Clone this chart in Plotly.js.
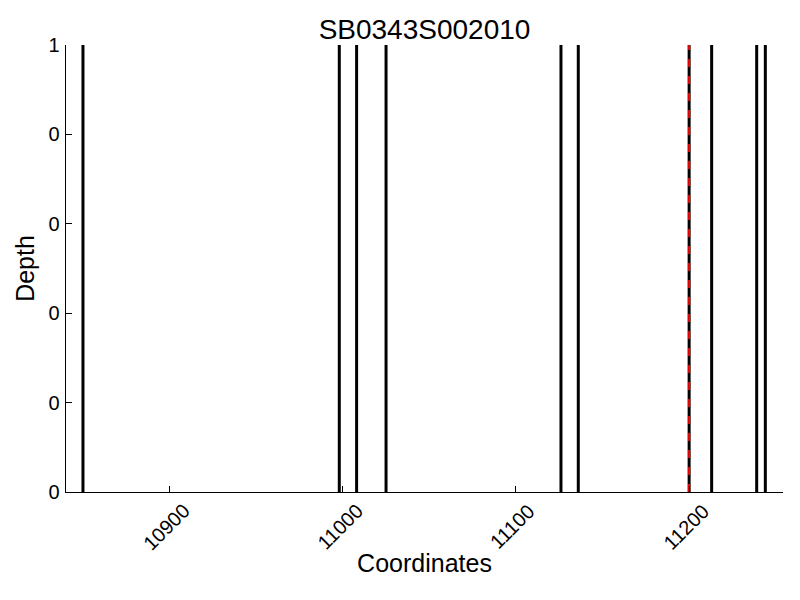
<!DOCTYPE html>
<html>
<head>
<meta charset="utf-8">
<script src="https://cdn.plot.ly/plotly-3.0.1.min.js"></script>
<style>html,body{margin:0;padding:0;background:#fff;}#chart{width:800px;height:600px;}</style>
</head>
<body>
<div id="chart"></div>
<script>
// Read coordinates of the depth markers (depth = 1 each)
const coordinates = [10850, 10998, 11008, 11025, 11126, 11136, 11200, 11213, 11239, 11244];
const depths = [1, 1, 1, 1, 1, 1, 1, 1, 1, 1];
const highlightCoord = [11200];
const highlightDepth = [1];
const xTickVals = [10900, 11000, 11100, 11200];
const xTickText = ['10900', '11000', '11100', '11200'];
const yTickVals = [0, 0.2, 0.4, 0.6, 0.8, 1];
const yTickText = ['0', '0', '0', '0', '0', '1'];

const FONT = 'Liberation Sans, Arial, sans-serif';

function stems(xs, ys) {
  const x = [], y = [];
  xs.forEach((c, i) => { x.push(c, c, null); y.push(0, ys[i], null); });
  return {x, y};
}
const s1 = stems(coordinates, depths);
const s2 = stems(highlightCoord, highlightDepth);

const traces = [
  {type: 'scatter', mode: 'lines', x: s1.x, y: s1.y, line: {color: '#000', width: 3}, hoverinfo: 'skip', showlegend: false},
  {type: 'scatter', mode: 'lines', x: s2.x, y: s2.y, line: {color: '#ff0000', width: 2, dash: '8px,9px'}, hoverinfo: 'skip', showlegend: false}
];

const annotations = xTickVals.map((v, i) => ({
  x: v, xref: 'x', y: 0, yref: 'paper', text: xTickText[i], showarrow: false,
  textangle: -45, xanchor: 'center', yanchor: 'top', yshift: -5, xshift: -3,
  font: {family: FONT, size: 20, color: '#000'}
}));

const layout = {
  width: 800, height: 600,
  margin: {l: 66, r: 17, t: 45, b: 108, pad: 0},
  paper_bgcolor: '#fff', plot_bgcolor: '#fff',
  font: {family: FONT, color: '#000'},
  title: {text: 'SB0343S002010', font: {family: FONT, size: 28, color: '#000'}, x: 0.5, xref: 'paper', y: 1, yref: 'paper', yanchor: 'bottom', pad: {b: 6}},
  xaxis: {
    range: [10840.2, 11254.2], tickvals: xTickVals, ticktext: xTickText, showticklabels: false,
    ticks: 'inside', ticklen: 6, tickwidth: 1, tickcolor: '#000',
    showline: true, linecolor: '#000', linewidth: 1.3, showgrid: false, zeroline: false,
    title: {text: 'Coordinates', font: {family: FONT, size: 25, color: '#000'}, standoff: 62}
  },
  yaxis: {
    range: [0, 1], tickvals: yTickVals, ticktext: yTickText,
    ticks: 'inside', ticklen: 6, tickwidth: 1, tickcolor: '#000', ticklabelstandoff: 1,
    tickfont: {family: FONT, size: 20, color: '#000'},
    showline: true, linecolor: '#000', linewidth: 1.3, showgrid: false, zeroline: false,
    title: {text: 'Depth', font: {family: FONT, size: 25, color: '#000'}, standoff: 6}
  },
  annotations: annotations,
  showlegend: false
};

Plotly.newPlot('chart', traces, layout, {displayModeBar: false, staticPlot: true});
</script>
</body>
</html>
